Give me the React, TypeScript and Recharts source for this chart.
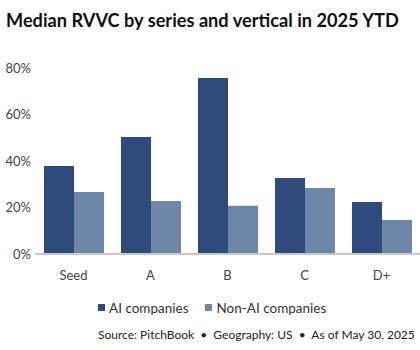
import { BarChart, Bar, XAxis, YAxis } from "recharts";

const series = ["Seed", "A", "B", "C", "D+"];
const aiCompanies = [37.8, 50.3, 75.7, 32.7, 22.4];
const nonAiCompanies = [26.7, 22.8, 20.8, 28.4, 14.6];
const yTicks = [0, 20, 40, 60, 80];

const AI = "#2F4B7C";
const NON_AI = "#6E86A8";
const FONT = "Lato, 'Noto Sans', sans-serif";

const data = series.map((s, i) => ({
  series: s,
  ai: aiCompanies[i],
  nonAi: nonAiCompanies[i],
}));

function LegendItem({ color, label }: { color: string; label: string }) {
  return (
    <span style={{ display: "inline-flex", alignItems: "center", marginRight: 17 }}>
      <span style={{ width: 7, height: 7, background: color, display: "inline-block", marginRight: 4 }} />
      {label}
    </span>
  );
}

export default function App() {
  return (
    <div
      style={{
        position: "absolute",
        left: 0,
        top: 0,
        width: 420,
        height: 350,
        background: "#fff",
        fontFamily: FONT,
      }}
    >
      <div
        style={{
          position: "absolute",
          left: 6,
          top: 9,
          fontSize: 18.2,
          fontWeight: 700,
          color: "#111",
          whiteSpace: "nowrap",
        }}
      >
        Median RVVC by series and vertical in 2025 YTD
      </div>

      <BarChart
        width={420}
        height={290}
        data={data}
        barGap={0}
        barSize={30}
        margin={{ top: 68, right: 0, left: 0, bottom: 0 }}
      >
        <XAxis
          dataKey="series"
          height={36}
          tickLine={false}
          axisLine={{ stroke: "#c8c8c8", strokeWidth: 2 }}
          tick={{ fill: "#444", fontSize: 13, fontFamily: FONT }}
          tickMargin={11}
        />
        <YAxis
          width={35}
          domain={[0, 80]}
          ticks={yTicks}
          tickFormatter={(v) => `${v}%`}
          axisLine={false}
          tickLine={false}
          tickSize={2}
          tick={{ fill: "#444", fontSize: 13, fontFamily: FONT }}
        />
        <Bar dataKey="ai" name="AI companies" fill={AI} isAnimationActive={false} />
        <Bar dataKey="nonAi" name="Non-AI companies" fill={NON_AI} isAnimationActive={false} />
      </BarChart>

      <div
        style={{
          position: "absolute",
          left: 98,
          top: 298,
          fontSize: 13.5,
          color: "#333",
          whiteSpace: "nowrap",
        }}
      >
        <LegendItem color={AI} label="AI companies" />
        <LegendItem color={NON_AI} label="Non-AI companies" />
      </div>

      <div
        style={{
          position: "absolute",
          left: 98,
          top: 327,
          fontSize: 12,
          color: "#222",
          whiteSpace: "pre",
        }}
      >
        {"Source: PitchBook  •  Geography: US  •  As of May 30, 2025"}
      </div>
    </div>
  );
}
